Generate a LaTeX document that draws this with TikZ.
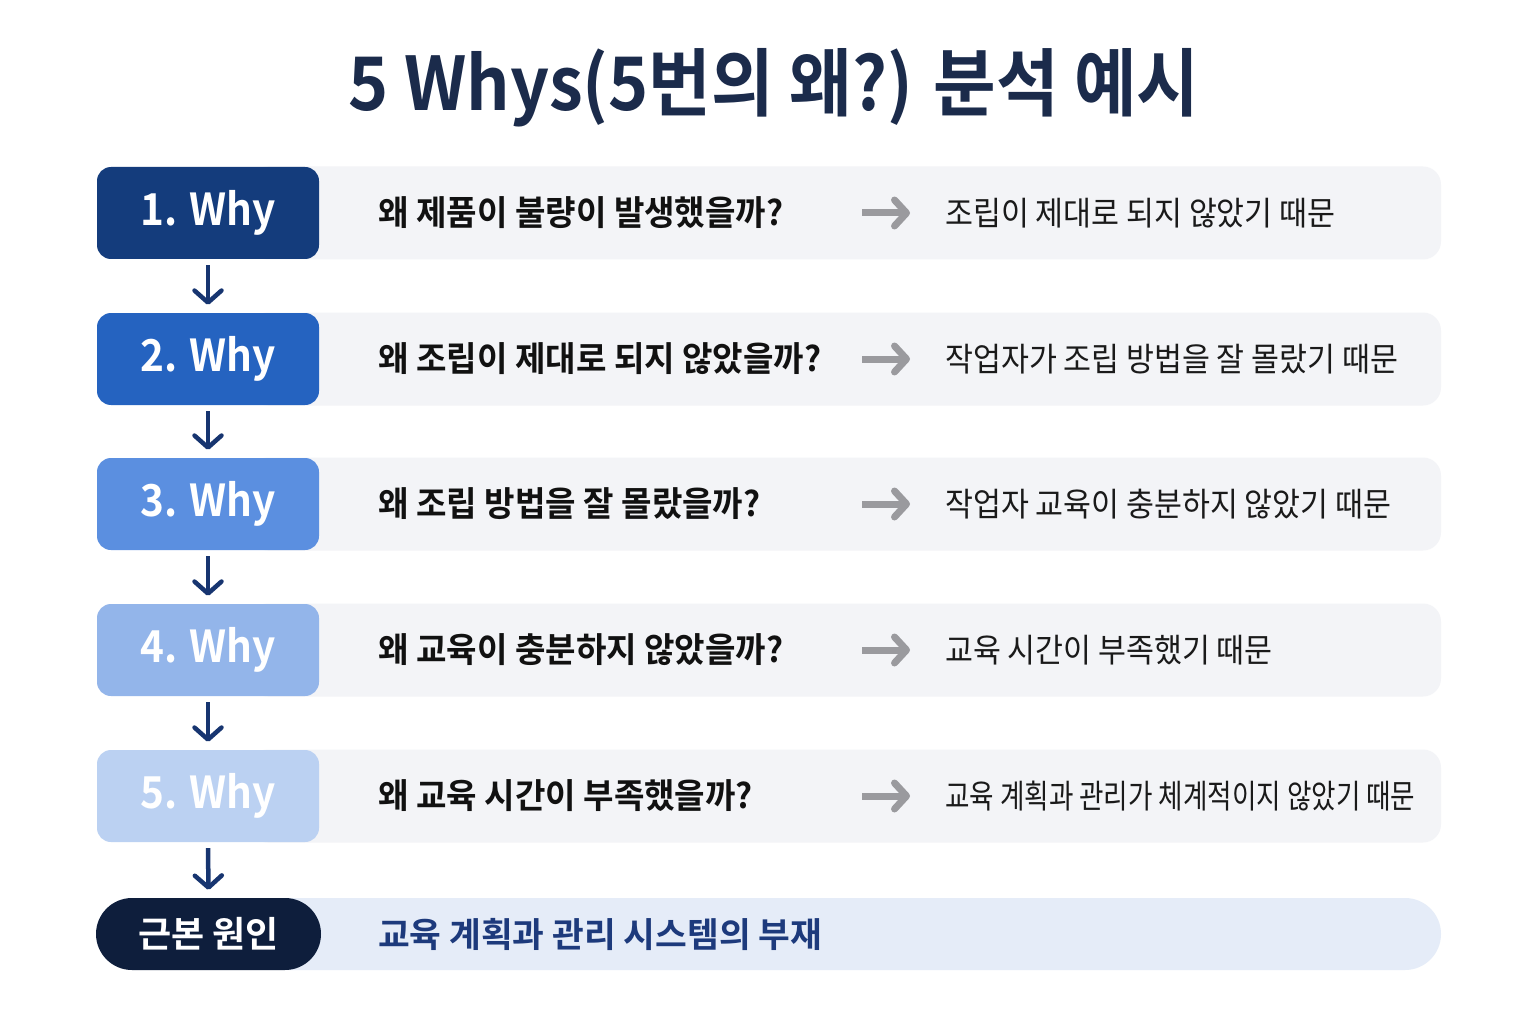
\documentclass[tikz,border=0pt]{standalone}
\usepackage{fontspec}
\setmainfont{Noto Sans CJK KR}[BoldFont=* Bold]
\newfontfamily\krc{Noto Sans CJK KR}[BoldFont=* Bold,FakeStretch=0.92]
\newfontfamily\krq{Noto Sans CJK KR}[BoldFont=* Bold,FakeStretch=0.96]
\usetikzlibrary{arrows.meta}
\definecolor{titlecol}{HTML}{1B2B4B}
\definecolor{wone}{HTML}{143C7C}
\definecolor{wtwo}{HTML}{2563C0}
\definecolor{wthree}{HTML}{5B8FE0}
\definecolor{wfour}{HTML}{93B5EA}
\definecolor{wfive}{HTML}{BBD1F2}
\definecolor{rootcol}{HTML}{0E1E3C}
\definecolor{stripgray}{HTML}{F3F4F7}
\definecolor{stripblue}{HTML}{E5ECF8}
\definecolor{qcol}{HTML}{111111}
\definecolor{acol}{HTML}{1A1A1A}
\definecolor{roottext}{HTML}{1D3A7C}
\definecolor{arrgray}{HTML}{9A9A9E}
\definecolor{navyarr}{HTML}{173570}
\begin{document}
\begin{tikzpicture}[x=1pt,y=-1pt,
  whybox/.style={rounded corners=14pt,minimum width=222pt,minimum height=92pt,inner sep=0pt,text=white,font=\krc\fontsize{44}{50}\selectfont\bfseries},
  rootbox/.style={rounded corners=36pt,fill=rootcol,minimum width=225pt,minimum height=72pt,inner sep=0pt,text=white,font=\fontsize{36}{42}\selectfont\bfseries},
  qtext/.style={anchor=west,inner sep=0pt,font=\krq\fontsize{34.5}{40}\selectfont\bfseries,text=qcol},
  atext/.style={anchor=west,inner sep=0pt,font=\krc\fontsize{33}{38}\selectfont,text=acol},
  rtext/.style={anchor=west,inner sep=0pt,font=\fontsize{34.5}{40}\selectfont\bfseries,text=roottext},
  garrow/.style={draw=arrgray,line width=7pt,-{Straight Barb[length=12pt,width=26pt,round]}},
  darrow/.style={draw=navyarr,line width=4.5pt,-{Straight Barb[length=12pt,width=27pt,round]}},
  ttl/.style={font=\krc\fontsize{74}{82}\selectfont\bfseries,text=titlecol,inner sep=0pt}
]
\fill[white] (0,0) rectangle (1536,1024);
\useasboundingbox (0,0) rectangle (1536,1024);

\node[ttl] (title) at (774,88) {5 Whys(5번의 왜?) 분석 예시};

% strips
\foreach \yc in {213,359,504,650,796}{
  \fill[stripgray,rounded corners=18pt] (250,\yc-46.5) rectangle (1441,\yc+46.5);
}
\fill[stripblue,rounded corners=36pt] (250,898) rectangle (1441,970);

% label boxes
\node[whybox,fill=wone]   (w1) at (208,213) {1. Why};
\node[whybox,fill=wtwo]   (w2) at (208,359) {2. Why};
\node[whybox,fill=wthree] (w3) at (208,504) {3. Why};
\node[whybox,fill=wfour]  (w4) at (208,650) {4. Why};
\node[whybox,fill=wfive]  (w5) at (208,796) {5. Why};
\node[rootbox] (root) at (208.5,934) {근본 원인};

% down arrows
\draw[darrow] ([yshift=-6pt]w1.south) -- ([yshift=8pt]w2.north);
\draw[darrow] ([yshift=-6pt]w2.south) -- ([yshift=8pt]w3.north);
\draw[darrow] ([yshift=-6pt]w3.south) -- ([yshift=8pt]w4.north);
\draw[darrow] ([yshift=-6pt]w4.south) -- ([yshift=8pt]w5.north);
\draw[darrow] ([yshift=-6pt]w5.south) -- ([yshift=8pt]root.north);

% questions
\node[qtext] (q1) at (378,213) {왜 제품이 불량이 발생했을까?};
\node[qtext] (q2) at (378,359) {왜 조립이 제대로 되지 않았을까?};
\node[qtext] (q3) at (378,504) {왜 조립 방법을 잘 몰랐을까?};
\node[qtext] (q4) at (378,650) {왜 교육이 충분하지 않았을까?};
\node[qtext] (q5) at (378,796) {왜 교육 시간이 부족했을까?};

% answers
\node[atext] (a1) at (945,213) {조립이 제대로 되지 않았기 때문};
\node[atext] (a2) at (945,359) {작업자가 조립 방법을 잘 몰랐기 때문};
\node[atext] (a3) at (945,504) {작업자 교육이 충분하지 않았기 때문};
\node[atext] (a4) at (945,650) {교육 시간이 부족했기 때문};
\node[atext,xscale=0.876,transform shape] (a5) at (945,796) {교육 계획과 관리가 체계적이지 않았기 때문};

% grey arrows
\foreach \i/\yc in {1/213,2/359,3/504,4/650,5/796}{
  \coordinate (gs\i) at (862,\yc);
  \coordinate (ge\i) at (910,\yc);
  \draw[garrow] (gs\i) -- (ge\i);
}

\node[rtext] (r) at (378,934) {교육 계획과 관리 시스템의 부재};
\end{tikzpicture}
\end{document}
